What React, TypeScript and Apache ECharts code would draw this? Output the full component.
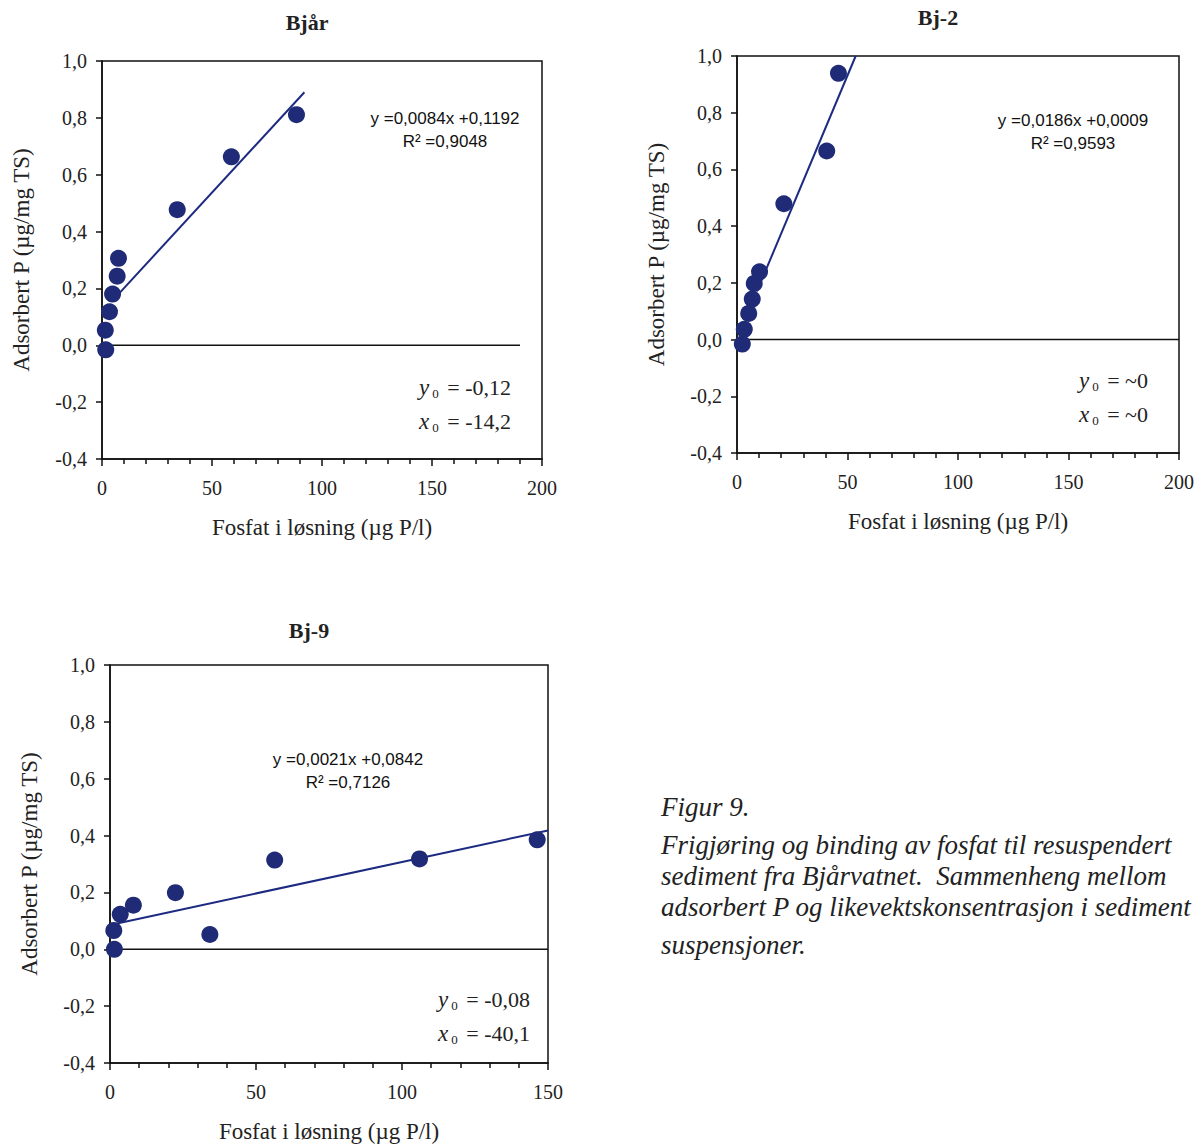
import React, { useEffect, useRef } from "react";
import * as echarts from "echarts";

// Bjår
const bjarX = [1.7, 1.5, 3.4, 4.8, 6.9, 7.5, 34.2, 58.8, 88.4];
const bjarY = [-0.016, 0.053, 0.118, 0.18, 0.243, 0.306, 0.477, 0.663, 0.811];
const bjarFit = [[7.5, 0.18], [92, 0.89]];
// Bj-2
const bj2X = [2.4, 3.3, 5.3, 6.9, 7.8, 10.2, 21.2, 40.6, 45.9];
const bj2Y = [-0.016, 0.036, 0.092, 0.143, 0.198, 0.239, 0.479, 0.665, 0.939];
const bj2Fit = [[9, 0.17], [53.7, 1.0]];
// Bj-9
const bj9X = [1.5, 1.3, 3.5, 8.0, 22.4, 34.2, 56.4, 106, 146.3];
const bj9Y = [0.0, 0.066, 0.123, 0.155, 0.199, 0.052, 0.314, 0.318, 0.385];
const bj9Fit = [[2, 0.09], [150, 0.418]];

const titles = ["Bjår", "Bj-2", "Bj-9"];
const xMaxes = [200, 200, 150];
const zeroLineEnds = [190, 200, 150];
const equations = [
  ["y =0,0084x +0,1192", "R² =0,9048"],
  ["y =0,0186x +0,0009", "R² =0,9593"],
  ["y =0,0021x +0,0842", "R² =0,7126"],
];
const interceptY = ["-0,12", "~0", "-0,08"];
const interceptX = ["-14,2", "~0", "-40,1"];
const yTitle = "Adsorbert P (µg/mg TS)";
const xTitle = "Fosfat i løsning (µg P/l)";
const caption = [
  "Figur 9.",
  "Frigjøring og binding av fosfat til resuspendert",
  "sediment fra Bjårvatnet.  Sammenheng mellom",
  "adsorbert P og likevektskonsentrasjon i sediment",
  "suspensjoner.",
];

const SERIF = '"Liberation Serif", "Times New Roman", serif';
const SANS = '"Liberation Sans", Arial, sans-serif';
const NAVY = "#1f2b76";
const LINE = "#1d2a82";

const grids = [
  { left: 102, top: 61, width: 440, height: 398 },
  { left: 737, top: 56, width: 442, height: 397 },
  { left: 110, top: 665, width: 438, height: 398 },
];

const titlePos = [
  [307, 22],
  [938, 17],
  [309, 630],
];
const eqPos = [
  [445, 118],
  [1073, 120],
  [348, 759],
];
const icPos = [
  [511, 387],
  [1148, 380],
  [530, 999],
];

export default function App() {
  const ref = useRef<HTMLDivElement>(null);
  useEffect(() => {
    if (!ref.current) return;
    const chart = echarts.init(ref.current, undefined, { renderer: "svg" });
    const fmt = (v: number) => v.toFixed(1).replace(".", ",");
    const xs = [bjarX, bj2X, bj9X];
    const ys = [bjarY, bj2Y, bj9Y];
    const fits = [bjarFit, bj2Fit, bj9Fit];

    const xAxis = grids.map((_, i) => ({
      type: "value",
      gridIndex: i,
      min: 0,
      max: xMaxes[i],
      interval: 50,
      name: xTitle,
      nameLocation: "middle",
      nameGap: 57,
      nameTextStyle: { fontFamily: SERIF, fontSize: 23, color: "#222" },
      axisLine: { show: true, onZero: false, lineStyle: { color: "#111", width: 1.5 } },
      axisTick: { show: true, inside: false, length: 7, lineStyle: { color: "#111", width: 1.5 } },
      minorTick: { show: true, splitNumber: 5, length: 5, lineStyle: { color: "#111", width: 1.5 } },
      splitLine: { show: false },
      minorSplitLine: { show: false },
      axisLabel: { margin: 19, fontFamily: SERIF, fontSize: 20, color: "#222", formatter: (v: number) => String(v) },
    }));
    const yAxis = grids.map((_, i) => ({
      type: "value",
      gridIndex: i,
      min: -0.4,
      max: 1.0,
      interval: 0.2,
      name: yTitle,
      nameLocation: "middle",
      nameRotate: 90,
      nameGap: 69,
      nameTextStyle: { fontFamily: SERIF, fontSize: 23, color: "#222" },
      axisLine: { show: true, onZero: false, lineStyle: { color: "#111", width: 1.5 } },
      axisTick: { show: true, inside: false, length: 6, lineStyle: { color: "#111", width: 1.5 } },
      splitLine: { show: false },
      axisLabel: { margin: 15, fontFamily: SERIF, fontSize: 20, color: "#222", formatter: fmt },
    }));

    const series: any[] = [];
    grids.forEach((_, i) => {
      series.push({
        type: "line",
        xAxisIndex: i,
        yAxisIndex: i,
        data: [[0, 0], [zeroLineEnds[i], 0]],
        symbol: "none",
        lineStyle: { color: "#111", width: 1.5 },
        silent: true,
        z: 1,
      });
      series.push({
        type: "line",
        xAxisIndex: i,
        yAxisIndex: i,
        data: fits[i],
        symbol: "none",
        lineStyle: { color: LINE, width: 2 },
        silent: true,
        z: 2,
      });
      series.push({
        type: "scatter",
        xAxisIndex: i,
        yAxisIndex: i,
        data: xs[i].map((x, k) => [x, ys[i][k]]),
        symbol: "circle",
        symbolSize: 17,
        itemStyle: { color: NAVY, opacity: 1 },
        z: 3,
      });
    });

    const graphic: any[] = [];
    grids.forEach((_, i) => {
      graphic.push({
        type: "text",
        x: titlePos[i][0],
        y: titlePos[i][1],
        style: {
          text: titles[i],
          font: `bold 22px ${SERIF}`,
          fill: "#222",
          align: "center",
          verticalAlign: "middle",
        },
      });
      equations[i].forEach((t, k) => {
        graphic.push({
          type: "text",
          x: eqPos[i][0],
          y: eqPos[i][1] + k * 23,
          style: {
            text: t,
            font: `17px ${SANS}`,
            fill: "#111",
            align: "center",
            verticalAlign: "middle",
          },
        });
      });
      const ic = [
        ["y", interceptY[i]],
        ["x", interceptX[i]],
      ];
      ic.forEach(([v, val], k) => {
        graphic.push({
          type: "text",
          x: icPos[i][0],
          y: icPos[i][1] + k * 34,
          style: {
            text: `{v|${v}}{s|0}{n| = ${val}}`,
            align: "right",
            verticalAlign: "middle",
            rich: {
              v: { fontFamily: SERIF, fontStyle: "italic", fontSize: 23, fill: "#222", lineHeight: 26, verticalAlign: "middle" },
              s: { fontFamily: SERIF, fontSize: 13, fill: "#222", lineHeight: 26, verticalAlign: "bottom", padding: [0, 3, 0, 3] },
              n: { fontFamily: SERIF, fontSize: 22, fill: "#222", lineHeight: 26, verticalAlign: "middle" },
            },
          },
        });
      });
    });
    const capY = [807, 845, 876, 907, 945];
    caption.forEach((line, k) => {
      graphic.push({
        type: "text",
        x: 661,
        y: capY[k],
        style: {
          text: line,
          font: `italic 27px ${SERIF}`,
          fill: "#222",
          align: "left",
          verticalAlign: "middle",
        },
      });
    });

    chart.setOption({
      animation: false,
      backgroundColor: "#fff",
      grid: grids.map((g) => ({ ...g, show: true, borderColor: "#111", borderWidth: 1.5, backgroundColor: "transparent" })),
      xAxis,
      yAxis,
      series,
      graphic,
    });
    return () => chart.dispose();
  }, []);
  return (
    <div
      ref={ref}
      style={{ position: "fixed", left: 0, top: 0, width: 1204, height: 1147, background: "#fff" }}
    />
  );
}
